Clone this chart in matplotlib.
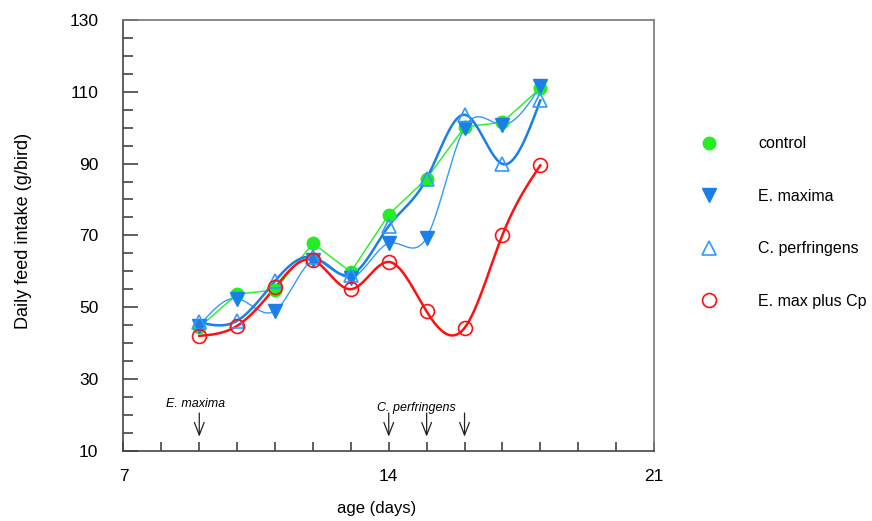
import numpy as np
import matplotlib
matplotlib.use('Agg')
from matplotlib import pyplot as plt
from matplotlib.lines import Line2D

plt.rcParams['font.family'] = ['Liberation Sans', 'DejaVu Sans']

days = [9, 10, 11, 12, 13, 14, 15, 16, 17, 18]
control = [44.4, 53.6, 54.8, 67.8, 59.8, 75.8, 85.8, 100.2, 101.5, 111.0]
e_maxima = [44.8, 52.4, 49.0, 63.0, 58.2, 67.8, 69.4, 100.0, 100.8, 111.5]
c_perf = [45.8, 46.2, 57.3, 63.9, 59.0, 72.6, 85.8, 103.6, 89.9, 107.6]
emax_cp = [42.0, 44.8, 55.5, 63.1, 55.0, 62.6, 48.8, 44.2, 70.1, 89.5]

challenge_emax = [9]
challenge_cp = [14, 15, 16]


def smooth(x, y, n=30):
    # natural cubic spline, only used to draw the curve between the points
    x = np.asarray(x, float)
    y = np.asarray(y, float)
    m = len(x)
    h = np.diff(x)
    A = np.zeros((m, m))
    r = np.zeros(m)
    A[0, 0] = A[-1, -1] = 1
    for i in range(1, m - 1):
        A[i, i - 1] = h[i - 1]
        A[i, i] = 2 * (h[i - 1] + h[i])
        A[i, i + 1] = h[i]
        r[i] = 6 * ((y[i + 1] - y[i]) / h[i] - (y[i] - y[i - 1]) / h[i - 1])
    M = np.linalg.solve(A, r)
    xs, ys = [], []
    for i in range(m - 1):
        t = np.linspace(x[i], x[i + 1], n, endpoint=False)
        a = x[i + 1] - t
        b = t - x[i]
        s = (M[i] * a ** 3 + M[i + 1] * b ** 3) / (6 * h[i]) \
            + (y[i] / h[i] - M[i] * h[i] / 6) * a \
            + (y[i + 1] / h[i] - M[i + 1] * h[i] / 6) * b
        xs.extend(t)
        ys.extend(s)
    xs.append(x[-1])
    ys.append(y[-1])
    return xs, ys


green = '#22ee22'
blue = '#1a7fe8'
lblue = '#3399ff'
red = '#ff1010'

fig = plt.figure(figsize=(8.72, 5.21), dpi=100)
ax = fig.add_axes([0.1416, 0.1349, 0.6084, 0.8267])

ax.plot(days, control, color=green, lw=1.0, zorder=2)
xs, ys = smooth(days, e_maxima)
ax.plot(xs, ys, color=lblue, lw=1.0, zorder=2)
xs, ys = smooth(days, c_perf)
ax.plot(xs, ys, color=blue, lw=1.8, zorder=2)
xs, ys = smooth(days, emax_cp)
ax.plot(xs, ys, color=red, lw=1.8, zorder=2)

ax.plot(days, control, 'o', color=green, ms=9, ls='none', zorder=3)
ax.plot(days, e_maxima, 'v', color=blue, ms=10, ls='none', zorder=4)
ax.plot(days, c_perf, '^', mfc='none', mec=lblue, mew=1.2, ms=10, ls='none', zorder=4)
ax.plot(days, emax_cp, 'o', mfc='none', mec=red, mew=1.2, ms=10, ls='none', zorder=5)

for d in challenge_emax + challenge_cp:
    ax.annotate('', xy=(d, 13.9), xytext=(d, 20.5),
                arrowprops=dict(arrowstyle='->,head_length=0.9,head_width=0.35',
                                color='#222222', lw=0.9, mutation_scale=10,
                                shrinkA=0, shrinkB=0))
ax.text(8.91, 23.1, 'E. maxima', style='italic', fontsize=9,
        ha='center', va='center')
ax.text(14.73, 21.9, 'C. perfringens', style='italic', fontsize=9,
        ha='center', va='center')

ax.set_xlim(7, 21)
ax.set_ylim(10, 130)
ax.set_xticks([7, 14, 21])
ax.set_xticks(range(7, 22), minor=True)
ax.set_yticks(range(10, 131, 20))
ax.set_yticks(range(10, 131, 5), minor=True)
ax.tick_params(which='both', direction='in', top=False, right=False,
               colors='#444444', labelcolor='black', labelsize=12.5, width=1.2)
ax.tick_params(axis='y', which='major', length=11, pad=18)
ax.tick_params(axis='y', which='minor', length=7)
ax.tick_params(axis='x', which='both', length=6.5, pad=13)
for side in ['left', 'bottom']:
    ax.spines[side].set_color('#444444')
    ax.spines[side].set_linewidth(1.2)
for side in ['top', 'right']:
    ax.spines[side].set_color('#777777')
    ax.spines[side].set_linewidth(1.2)

ax.set_xlabel('age (days)', fontsize=12, va='center')
ax.xaxis.set_label_coords(0.478, -0.134)
ax.set_ylabel('Daily feed intake (g/bird)', fontsize=13, va='center')
ax.yaxis.set_label_coords(-0.189, 0.51)

handles = [
    Line2D([], [], marker='o', color=green, ls='none', ms=9),
    Line2D([], [], marker='v', color=blue, ls='none', ms=10),
    Line2D([], [], marker='^', mfc='none', mec=lblue, mew=1.2, ls='none', ms=10),
    Line2D([], [], marker='o', mfc='none', mec=red, mew=1.2, ls='none', ms=10),
]
labels = ['control', 'E. maxima', 'C. perfringens', 'E. max plus Cp']
fig.legend(handles, labels, loc='upper left', bbox_to_anchor=(0.7874, 0.751),
           frameon=False, fontsize=11.5, labelspacing=2.35, handletextpad=2.1,
           borderaxespad=0)

fig.savefig('out.png', dpi=100)
